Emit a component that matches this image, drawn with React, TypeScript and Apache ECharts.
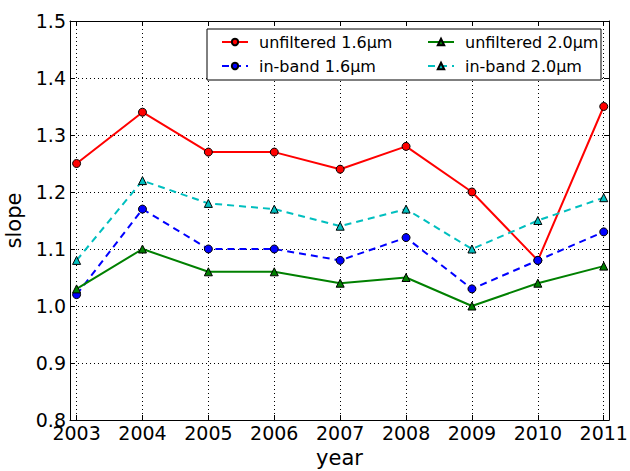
import React, { useEffect, useRef } from "react";
import * as echarts from "echarts";

const years = [2003, 2004, 2005, 2006, 2007, 2008, 2009, 2010, 2011];
const unfiltered16 = [1.25, 1.34, 1.27, 1.27, 1.24, 1.28, 1.2, 1.08, 1.35];
const inband16 = [1.02, 1.17, 1.1, 1.1, 1.08, 1.12, 1.03, 1.08, 1.13];
const unfiltered20 = [1.03, 1.1, 1.06, 1.06, 1.04, 1.05, 1.0, 1.04, 1.07];
const inband20 = [1.08, 1.22, 1.18, 1.17, 1.14, 1.17, 1.1, 1.15, 1.19];

const names = ["unfiltered 1.6μm", "in-band 1.6μm", "unfiltered 2.0μm", "in-band 2.0μm"];

const FONT = "DejaVu Sans";

export default function App() {
  const ref = useRef<HTMLDivElement>(null);
  useEffect(() => {
    if (!ref.current) return;
    const chart = echarts.init(ref.current, null, { renderer: "svg" });
    const pair = (arr: number[]) => years.map((y, i) => [y, arr[i]]);
    const axisCommon = {
      axisLine: { show: true, onZero: false, lineStyle: { color: "#000", width: 1 } },
    };
    const mk = (name: string, data: number[], color: string, symbol: string, size: number, dashed: boolean) => ({
      type: "line",
      name,
      data: pair(data),
      symbol,
      symbolSize: size,
      showSymbol: true,
      itemStyle: { color, borderColor: "#000", borderWidth: 1 },
      lineStyle: { color, width: 2, type: dashed ? [7, 5] : "solid" },
      emphasis: { disabled: true },
      z: 3,
    });
    const legendText = { fontSize: 16, color: "#000", fontFamily: FONT, padding: [0, 0, 0, 6] };
    chart.setOption({
      animation: false,
      backgroundColor: "#fff",
      textStyle: { fontFamily: FONT },
      grid: { left: 70, right: 21, top: 21, bottom: 51, containLabel: false, outerBoundsMode: "none" },
      xAxis: [
        {
          type: "value",
          min: 2002.9,
          max: 2011.08,
          ...axisCommon,
          name: "year",
          nameLocation: "middle",
          nameGap: 27,
          nameTextStyle: { fontSize: 21, color: "#000", fontFamily: FONT },
          axisTick: { show: true, inside: true, length: 5, customValues: years, lineStyle: { color: "#000" } },
          axisLabel: {
            customValues: years,
            formatter: (v: number) => String(Math.round(v)),
            fontSize: 19,
            color: "#000",
            fontFamily: FONT,
            margin: 3,
          },
          splitLine: { show: true, lineStyle: { color: "#000", type: [1, 3], width: 1 } },
        },
        {
          type: "value",
          position: "top",
          min: 2002.9,
          max: 2011.08,
          ...axisCommon,
          axisTick: { show: true, inside: true, length: 5, customValues: years, lineStyle: { color: "#000" } },
          axisLabel: { show: false },
          splitLine: { show: false },
        },
      ],
      yAxis: [
        {
          type: "value",
          min: 0.8,
          max: 1.5,
          interval: 0.1,
          ...axisCommon,
          name: "slope",
          nameLocation: "middle",
          nameGap: 42,
          nameTextStyle: { fontSize: 21, color: "#000", fontFamily: FONT },
          axisTick: { show: true, inside: true, length: 5, lineStyle: { color: "#000" } },
          axisLabel: {
            formatter: (v: number) => v.toFixed(1),
            fontSize: 19,
            color: "#000",
            fontFamily: FONT,
            margin: 4,
          },
          splitLine: { show: true, lineStyle: { color: "#000", type: [1, 3], width: 1 } },
        },
        {
          type: "value",
          position: "right",
          min: 0.8,
          max: 1.5,
          interval: 0.1,
          ...axisCommon,
          axisTick: { show: true, inside: true, length: 5, lineStyle: { color: "#000" } },
          axisLabel: { show: false },
          splitLine: { show: false },
        },
      ],
      legend: [
        {
          orient: "vertical",
          left: 216,
          top: 29,
          itemWidth: 26,
          itemHeight: 8,
          itemGap: 8,
          data: [names[0], names[1]],
          textStyle: legendText,
          selectedMode: false,
        },
        {
          orient: "vertical",
          left: 422,
          top: 29,
          itemWidth: 26,
          itemHeight: 8,
          itemGap: 8,
          data: [names[2], names[3]],
          textStyle: legendText,
          selectedMode: false,
        },
      ],
      graphic: [
        {
          type: "rect",
          shape: { x: 207, y: 29, width: 394, height: 51 },
          style: { fill: "#fff", stroke: "#000", lineWidth: 1 },
          z: 1,
          zlevel: 0,
        },
      ],
      series: [
        mk(names[0], unfiltered16, "#ff0000", "circle", 8, false),
        mk(names[1], inband16, "#0000ff", "circle", 8, true),
        mk(names[2], unfiltered20, "#008000", "triangle", 8, false),
        mk(names[3], inband20, "#00bfbf", "triangle", 8, true),
      ],
    });
    return () => chart.dispose();
  }, []);
  return <div ref={ref} style={{ width: 630, height: 471, position: "absolute", left: 0, top: 0 }} />;
}
